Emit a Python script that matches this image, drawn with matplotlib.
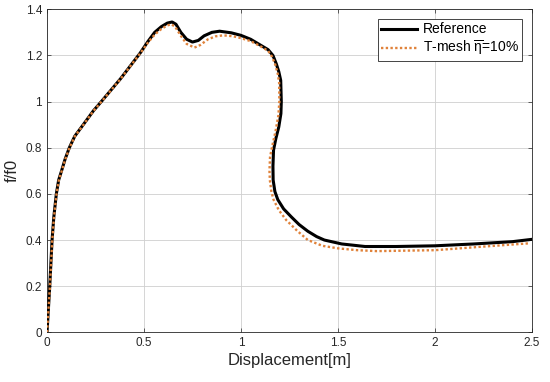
import matplotlib
matplotlib.use("Agg")
import matplotlib.pyplot as plt

# reference curve
ref_x = [0, 0.014, 0.026, 0.035, 0.048, 0.06, 0.075, 0.093, 0.115, 0.143, 0.187, 0.239, 0.28,
         0.33, 0.38, 0.43, 0.48, 0.52, 0.555, 0.59, 0.62, 0.645, 0.665, 0.69, 0.72, 0.75,
         0.78, 0.81, 0.85, 0.89, 0.95, 1.0, 1.05, 1.10, 1.14, 1.165, 1.182, 1.195, 1.205,
         1.208, 1.206, 1.195, 1.18, 1.168, 1.165, 1.166, 1.175, 1.19, 1.22, 1.26, 1.30,
         1.345, 1.39, 1.43, 1.52, 1.64, 1.8, 2.0, 2.2, 2.4, 2.5]
ref_y = [0, 0.2, 0.4, 0.5, 0.6, 0.66, 0.7, 0.75, 0.8, 0.85, 0.9, 0.96, 1.0,
         1.05, 1.10, 1.155, 1.21, 1.26, 1.30, 1.325, 1.34, 1.345, 1.335, 1.30, 1.27, 1.258,
         1.265, 1.285, 1.30, 1.305, 1.298, 1.287, 1.27, 1.245, 1.225, 1.20, 1.164, 1.13, 1.092,
         1.0, 0.948, 0.89, 0.84, 0.79, 0.72, 0.66, 0.61, 0.575, 0.535, 0.50, 0.467,
         0.438, 0.415, 0.40, 0.383, 0.372, 0.372, 0.375, 0.383, 0.393, 0.403]

# T-mesh curve
tm_x = [0, 0.015, 0.027, 0.036, 0.049, 0.061, 0.076, 0.094, 0.116, 0.144, 0.188, 0.24, 0.281,
        0.331, 0.381, 0.431, 0.481, 0.52, 0.555, 0.59, 0.62, 0.64, 0.66, 0.69, 0.72, 0.76,
        0.79, 0.83, 0.87, 0.91, 0.96, 1.0, 1.05, 1.10, 1.14, 1.16, 1.177, 1.19, 1.197,
        1.198, 1.193, 1.178, 1.162, 1.15, 1.147, 1.149, 1.157, 1.168, 1.195, 1.234, 1.29,
        1.345, 1.42, 1.5, 1.6, 1.7, 2.0, 2.24, 2.49]
tm_y = [0, 0.2, 0.4, 0.5, 0.6, 0.66, 0.7, 0.75, 0.8, 0.85, 0.9, 0.96, 1.0,
        1.05, 1.10, 1.155, 1.21, 1.255, 1.29, 1.315, 1.33, 1.335, 1.325, 1.285, 1.25, 1.234,
        1.245, 1.27, 1.283, 1.287, 1.283, 1.275, 1.262, 1.24, 1.22, 1.195, 1.16, 1.12, 1.08,
        1.0, 0.94, 0.87, 0.81, 0.76, 0.70, 0.66, 0.61, 0.575, 0.53, 0.486, 0.44,
        0.40, 0.375, 0.364, 0.356, 0.352, 0.356, 0.371, 0.386]

x_ticks = [0, 0.5, 1, 1.5, 2, 2.5]
x_labels = ["0", "0.5", "1", "1.5", "2", "2.5"]
y_ticks = [0, 0.2, 0.4, 0.6, 0.8, 1, 1.2, 1.4]
y_labels = ["0", "0.2", "0.4", "0.6", "0.8", "1", "1.2", "1.4"]

plt.rcParams["font.family"] = ["Liberation Sans", "DejaVu Sans"]
plt.rcParams["mathtext.fontset"] = "custom"
plt.rcParams["mathtext.rm"] = "Liberation Sans"
plt.rcParams["mathtext.it"] = "Liberation Sans:italic"

fig = plt.figure(figsize=(5.5, 3.82), dpi=100)
ax = fig.add_axes([0.0855, 0.130, 0.8815, 0.8457])

ax.plot(ref_x, ref_y, color="black", linewidth=2.2, label="Reference", zorder=3)
ax.plot(tm_x, tm_y, color="#E0823A", linewidth=1.7, linestyle=(0, (1, 1)),
        label=r"T-mesh $\overline{\mathrm{\eta}}$=10%", zorder=4)

ax.set_xlim(0, 2.5)
ax.set_ylim(0, 1.4)
ax.set_xticks(x_ticks)
ax.set_xticklabels(x_labels)
ax.set_yticks(y_ticks)
ax.set_yticklabels(y_labels)
ax.tick_params(direction="in", length=3, width=0.5, colors="#262626", labelsize=8.5,
               top=True, right=True)
ax.grid(True, color="#CFCFCF", linewidth=0.6)
ax.set_axisbelow(True)
for s in ax.spines.values():
    s.set_color("#262626")
    s.set_linewidth(0.6)

ax.set_xlabel("Displacement[m]", fontsize=12, color="#262626", labelpad=3)
ax.set_ylabel("f/f0", fontsize=12, color="#262626", labelpad=4)

leg = ax.legend(loc="upper right", fontsize=10, fancybox=False, framealpha=1,
                edgecolor="#262626", handlelength=2.6, borderaxespad=0.7,
                borderpad=0.25, labelspacing=0.15, handletextpad=0.4)
leg.get_frame().set_linewidth(0.6)

fig.savefig("out.png", dpi=100)
